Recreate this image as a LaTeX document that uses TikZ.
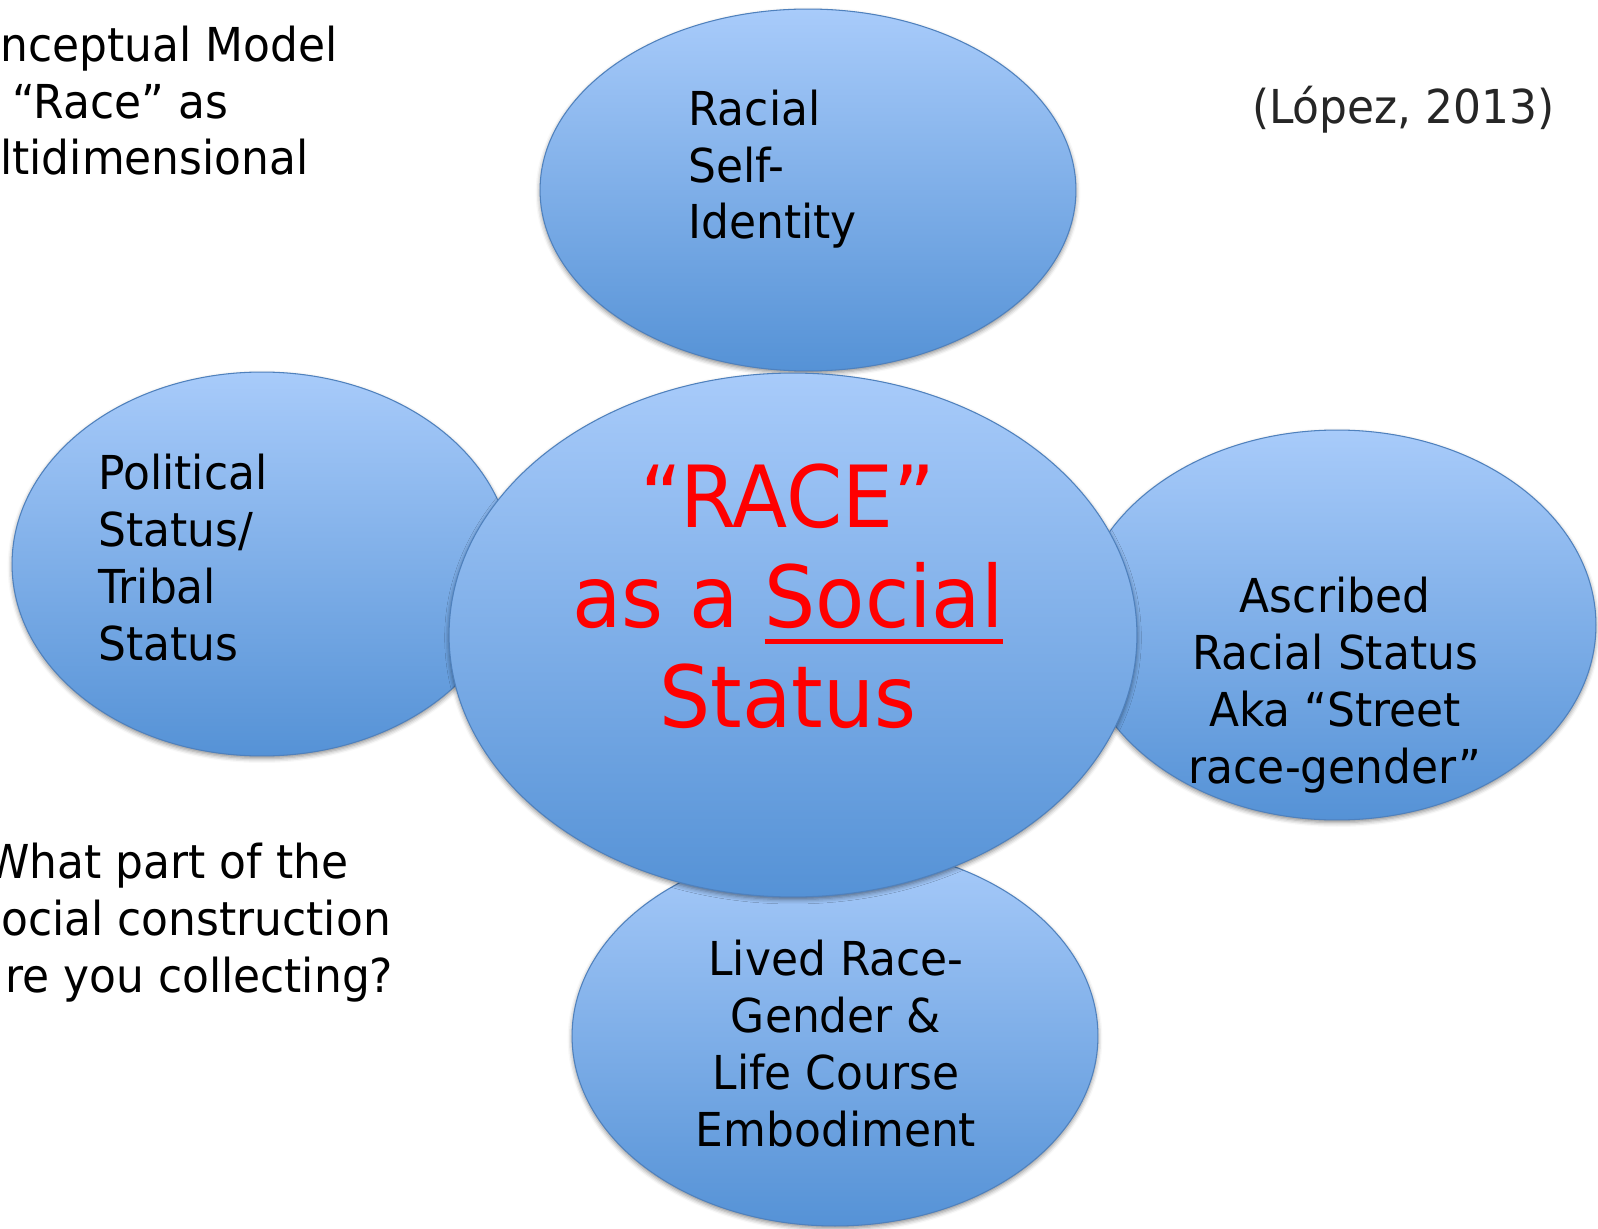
\documentclass[tikz,border=0pt]{standalone}
\usepackage{fontspec}
\setmainfont[FakeStretch=0.94]{DejaVu Sans}
\usetikzlibrary{shapes.geometric,shadows.blur}

\definecolor{bubbletop}{HTML}{A8CBFA}
\definecolor{bubblebot}{HTML}{5592D6}
\definecolor{bubbleline}{HTML}{4F81BD}
\definecolor{citegray}{HTML}{262626}

% dicke Unterstreichung
\newcommand{\thickunder}[1]{\setbox0\hbox{#1}\leavevmode\rlap{\rule[-9.3pt]{\wd0}{2.6pt}}\box0}

\begin{document}
\begin{tikzpicture}[x=0.02cm, y=-0.02cm,
	bubble/.style={ellipse, draw=bubbleline, line width=0.6pt,
		top color=bubbletop, bottom color=bubblebot, inner sep=0pt,
		blur shadow={shadow xshift=0pt, shadow yshift=-1.5pt,
			shadow blur radius=2.5pt, shadow opacity=45}},
	bubbletext/.style={font=\fontsize{26.6}{32.3}\selectfont, inner sep=0pt},
	racetext/.style={font=\fontsize{48.8}{56.7}\selectfont, text=red, inner sep=0pt}]
		
		% Rand des Bildes
		\clip (0,0) rectangle (1598,1229);
		
		% Aeussere Ellipsen
		\node [bubble, minimum width=10.72cm, minimum height=7.24cm] (self) at (808,190) {};
		\node [bubble, minimum width=10cm, minimum height=7.68cm] (political) at (262,564) {};
		\node [bubble, minimum width=10.36cm, minimum height=7.8cm] (ascribed) at (1337,625) {};
		\node [bubble, minimum width=10.52cm, minimum height=7.6cm] (lived) at (835,1036) {};
		
		% Mittlere Ellipse
		\node [bubble, minimum width=13.76cm, minimum height=10.48cm] (race) at (793,635) {};
		
		% Texte in den Ellipsen (Grundlinie der letzten Zeile)
		\node [bubbletext, anchor=base west, align=left] (self-text) at (688,239) {Racial\\Self-\\Identity};
		\node [bubbletext, anchor=base west, align=left] (political-text) at (98,660) {Political\\Status/\\Tribal\\Status};
		\node [bubbletext, anchor=base, align=center] (ascribed-text) at (1335,783) {Ascribed\\Racial Status\\Aka “Street\\race-gender”};
		\node [bubbletext, anchor=base, align=center] (lived-text) at (836,1146) {Lived Race-\\Gender \&\\Life Course\\Embodiment};
		\node [racetext, anchor=base, align=center] (race-text) at (788,727) {“RACE”\\as a \thickunder{Social}\\Status};
		
		% Texte ausserhalb
		\node [bubbletext, text=citegray, anchor=base east] (cite) at (1555,124) {(López, 2013)};
		\node [bubbletext, anchor=base west, align=left] (model) at (0,175) {nceptual Model\\\hspace*{0.24cm}“Race” as\\ltidimensional};
		\node [bubbletext, anchor=base west, align=left] (question) at (-14,992) {What part of the\\\hspace*{0.3cm}ocial construction\\\hspace*{0.38cm}re you collecting?};
		
	\end{tikzpicture}
\end{document}
